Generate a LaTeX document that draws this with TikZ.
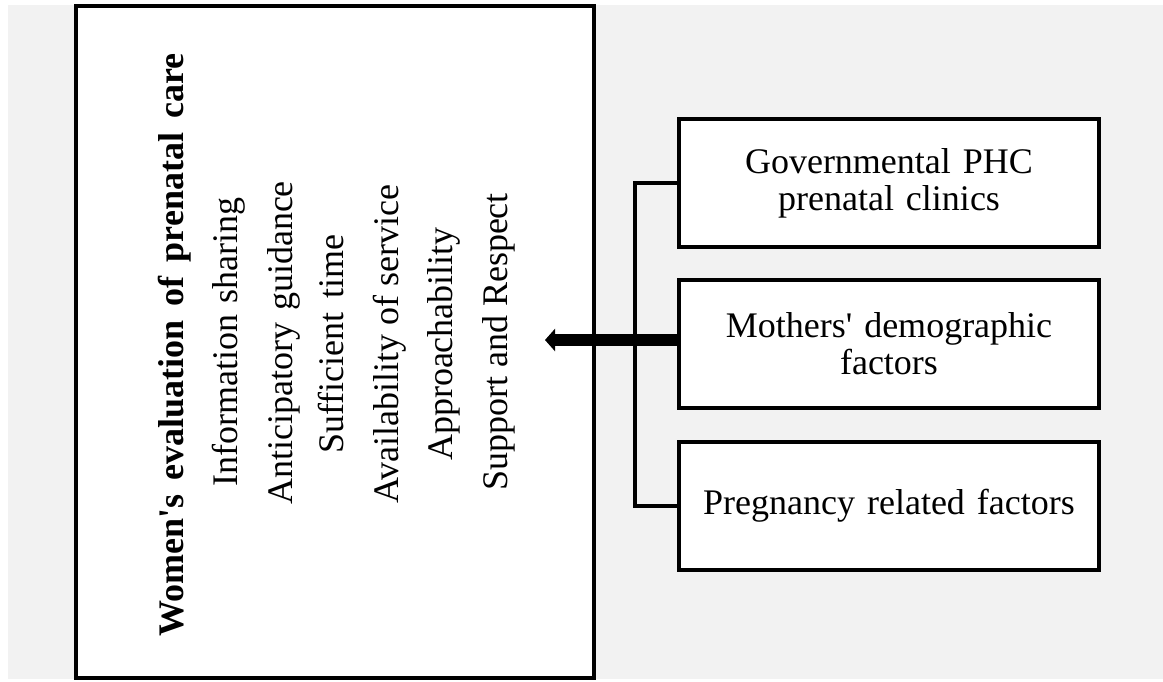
\documentclass[tikz,border=0pt]{standalone}
\usepackage{fontspec}
\setmainfont{Liberation Serif}
\usetikzlibrary{arrows.meta}
\definecolor{bggray}{RGB}{242,242,242}
\newcommand{\wsp}[1]{\hspace{#1pt}}
\begin{document}
\begin{tikzpicture}[x=1pt,y=-1pt,
  every node/.style={font=\fontsize{36}{37}\selectfont},
  factorbox/.style={draw=black,line width=4pt,fill=white,minimum width=420pt,minimum height=128pt,inner sep=0pt,align=center,text width=400pt},
  mainbox/.style={draw=black,line width=4pt,fill=white,inner sep=0pt,minimum width=518pt,minimum height=672pt},
  vtext/.style={rotate=90,anchor=base,inner sep=0pt},
  conn/.style={line width=4pt,line join=miter},
  bigarrow/.style={line width=12pt,-{Triangle[length=10pt,width=22pt]}}]
\useasboundingbox (0,0) rectangle (1163,681);
\fill[bggray] (8,5) rectangle (1163,679);
% main box
\node[mainbox] (evalbox) at (335,342) {};
\node[vtext,font=\fontsize{36}{37}\selectfont\bfseries] (t0) at (183,345) {Women\textquotesingle s\wsp{14}evaluation\wsp{14}of\wsp{14}prenatal\wsp{14}care};
\node[vtext] (t1) at (237,342) {Information\wsp{11}sharing};
\node[vtext] (t2) at (292,343) {Anticipatory\wsp{12}guidance};
\node[vtext] (t3) at (343,344) {Sufficient\wsp{14}time};
\node[vtext] (t4) at (398,344) {Availability of service};
\node[vtext] (t5) at (452,344) {Approachability};
\node[vtext] (t6) at (507,342) {Support and Respect};
% factor boxes
\node[factorbox] (gov) at (889,183) {Governmental\wsp{12}PHC\\prenatal\wsp{12}clinics};
\node[factorbox] (moth) at (889,343.5) {Mothers\textquotesingle\wsp{12}demographic\\factors};
\node[factorbox] (preg) at (889,505.5) {Pregnancy\wsp{12}related\wsp{12}factors};
% connectors
\draw[conn] (gov.west) -- ++(-42,0) |- (preg.west);
\coordinate (tip) at (545,340);
\draw[bigarrow] ([yshift=3.5pt]moth.west) -- (tip);
\end{tikzpicture}
\end{document}
